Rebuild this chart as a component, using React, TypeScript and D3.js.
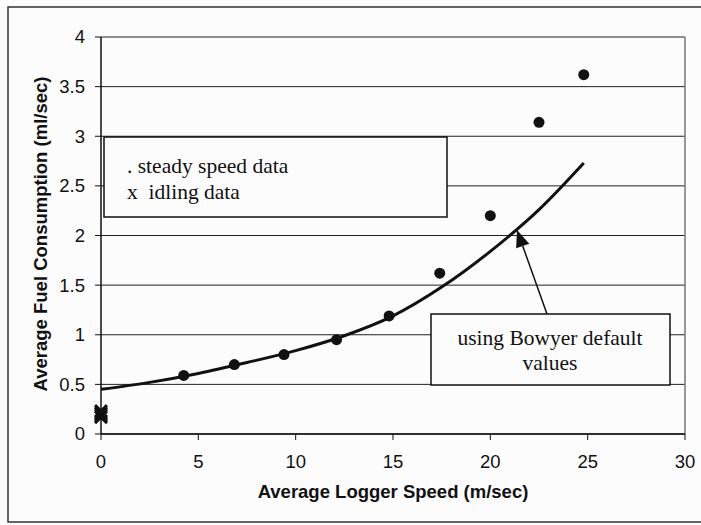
import React from "react";
import * as d3 from "d3";

const steadySpeed = [4.25, 6.85, 9.4, 12.1, 14.8, 17.4, 20.0, 22.5, 24.8];
const steadyFuel = [0.59, 0.70, 0.80, 0.95, 1.19, 1.62, 2.20, 3.14, 3.62];
const idlingSpeed = [0, 0, 0, 0];
const idlingFuel = [0.17, 0.19, 0.21, 0.23];
const modelSpeed = [0, 2.5, 5, 7.5, 10, 12.5, 15, 17.5, 20, 22.5, 24.8];
const modelFuel = [0.45, 0.52, 0.61, 0.72, 0.84, 0.99, 1.19, 1.48, 1.84, 2.26, 2.73];
const xTicks = [0, 5, 10, 15, 20, 25, 30];
const yTicks = [0, 0.5, 1, 1.5, 2, 2.5, 3, 3.5, 4];
const legendLines = [". steady speed data", "x  idling data"];
const noteLines = ["using Bowyer default", "values"];

export default function App() {
  const W = 701, H = 525;
  const x = d3.scaleLinear().domain([0, 30]).range([101, 685]);
  const y = d3.scaleLinear().domain([0, 4]).range([434, 37]);
  const line = d3.line<number>().x((_, i) => x(modelSpeed[i])).y((d) => y(d)).curve(d3.curveMonotoneX);
  const sans = "'Liberation Sans', Arial, sans-serif";
  const serif = "'Liberation Serif', 'Times New Roman', serif";

  // arrow
  const ax0 = 547, ay0 = 314, ax1 = 517, ay1 = 230;
  const ang = Math.atan2(ay1 - ay0, ax1 - ax0);
  const aL = 17, aW = 7;
  const bx = ax1 - aL * Math.cos(ang), by = ay1 - aL * Math.sin(ang);
  const head = `M${ax1},${ay1} L${bx + aW * Math.sin(ang)},${by - aW * Math.cos(ang)} L${bx - aW * Math.sin(ang)},${by + aW * Math.cos(ang)} Z`;

  return (
    <svg width={W} height={H} style={{ position: "absolute", left: 0, top: 0, background: "#fcfcfd" }}>
      <rect x={0} y={0} width={W} height={H} fill="#fcfcfd" />
      <rect x={8} y={7} width={720} height={515} fill="none" stroke="#333" strokeWidth={1.5} />
      {/* gridlines */}
      {yTicks.map((t) => (
        <line key={"g" + t} x1={x(0)} x2={x(30)} y1={y(t)} y2={y(t)} stroke="#222" strokeWidth={1} />
      ))}
      <line x1={x(30)} x2={x(30)} y1={y(4)} y2={y(0)} stroke="#777" strokeWidth={1.5} />
      {/* axes */}
      <line x1={x(0)} x2={x(0)} y1={y(4)} y2={y(0)} stroke="#111" strokeWidth={1.5} />
      <line x1={x(0)} x2={x(30)} y1={y(0)} y2={y(0)} stroke="#111" strokeWidth={1.5} />
      {yTicks.map((t) => (
        <g key={"yt" + t}>
          <line x1={x(0) - 6} x2={x(0)} y1={y(t)} y2={y(t)} stroke="#111" strokeWidth={1} />
          <text x={85} y={y(t)} dy="0.35em" textAnchor="end" fontFamily={sans} fontSize={18.5} fill="#111">{t}</text>
        </g>
      ))}
      {xTicks.map((t) => (
        <g key={"xt" + t}>
          <line x1={x(t)} x2={x(t)} y1={y(0)} y2={y(0) + 6} stroke="#111" strokeWidth={1} />
          <text x={x(t)} y={468} textAnchor="middle" fontFamily={sans} fontSize={18.5} fill="#111">{t}</text>
        </g>
      ))}
      <text x={393} y={498} textAnchor="middle" fontFamily={sans} fontSize={18.5} fontWeight="bold" fill="#111">Average Logger Speed (m/sec)</text>
      <text transform="translate(47,234) rotate(-90)" textAnchor="middle" fontFamily={sans} fontSize={18.5} fontWeight="bold" fill="#111">Average Fuel Consumption (ml/sec)</text>
      {/* model curve */}
      <path d={line(modelFuel) || ""} fill="none" stroke="#111" strokeWidth={3} />
      {/* steady points */}
      {steadySpeed.map((s, i) => (
        <circle key={"p" + i} cx={x(s)} cy={y(steadyFuel[i])} r={5.5} fill="#111" />
      ))}
      {/* idling points */}
      {idlingSpeed.map((s, i) => {
        const cx = x(s), cy = y(idlingFuel[i]);
        return (
          <path key={"i" + i} d={`M${cx - 6},${cy - 6} L${cx + 6},${cy + 6} M${cx + 6},${cy - 6} L${cx - 6},${cy + 6}`} stroke="#111" strokeWidth={3} />
        );
      })}
      {/* legend box */}
      <rect x={104} y={137} width={343} height={80} fill="#fcfcfd" stroke="#111" strokeWidth={1.5} />
      {legendLines.map((l, i) => (
        <text key={"l" + i} x={127} y={173 + i * 26} fontFamily={serif} fontSize={21.5} fill="#111" style={{ whiteSpace: "pre" }}>{l}</text>
      ))}
      {/* note */}
      <line x1={ax0} y1={ay0} x2={bx} y2={by} stroke="#111" strokeWidth={1.5} />
      <path d={head} fill="#111" />
      <rect x={431} y={314} width={239} height={71} fill="#fcfcfd" stroke="#111" strokeWidth={1.5} />
      {noteLines.map((l, i) => (
        <text key={"n" + i} x={550} y={345 + i * 25} textAnchor="middle" fontFamily={serif} fontSize={21.5} fill="#111">{l}</text>
      ))}
    </svg>
  );
}
